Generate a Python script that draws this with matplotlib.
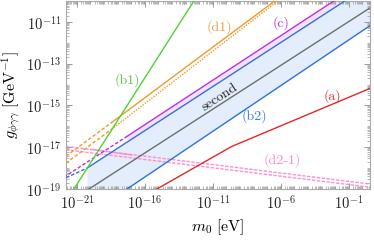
"""Coupling bounds g_phi_gamma_gamma versus mass m0."""

import matplotlib
matplotlib.use("Agg")
import matplotlib.pyplot as plt  # noqa: E402
import matplotlib.ticker as mticker  # noqa: E402
import numpy as np  # noqa: E402

plt.rcParams["mathtext.fontset"] = "cm"
plt.rcParams["font.family"] = ["DejaVu Serif"]

# values (m0 in eV, g in GeV^-1)
b1_m = [6e-22, 4e-13]
b1_g = [1e-19, 1e-10]

d1_dash_m = [1.55e-22, 3.7e-19]
d1_dash_g = [3.7e-18, 1.55e-16]
d1_m = [3.7e-19, 3.6e-7]
d1_g = [1.55e-16, 1e-10]
d1b_dash_m = [1.55e-22, 3.7e-19]
d1b_dash_g = [1.74e-18, 7.4e-17]
d1b_m = [3.7e-19, 6e-7]
d1b_g = [7.4e-17, 1e-10]

c_dash_m = [1.1e-22, 4.8e-18]
c_dash_g = [3.7e-19, 3.3e-17]
c_m = [4.8e-18, 7.9e-3]
c_g = [3.3e-17, 1e-10]

b2up_dash_m = [1.6e-22, 5.5e-21]
b2up_dash_g = [3.5e-19, 1e-18]
b2up_m = [5.5e-21, 5.1e-2]
b2up_g = [1e-18, 1e-10]
b2lo_m = [4.8e-18, 3.5]
b2lo_g = [1e-19, 6.5e-12]

second_m = [7.6e-21, 3.5]
second_g = [1e-19, 4.6e-11]

a_m = [5.5e-16, 2.5e-10, 3.5]
a_g = [8.9e-20, 1.1e-17, 6.5e-15]

d2_m = [1.55e-22, 4.9]
d2_g1 = [1.1e-17, 1.7e-19]
d2_g2 = [7.6e-18, 1.2e-19]
d2s_m = [1.26e-20, 1.1e-17]
d2s_g = [7.9e-18, 4.2e-18]

GREEN = "#4fd236"
ORANGE = "#ee9b2c"
PURPLE = "#bb2ee2"
BLUE = "#2f72e2"
GRAY = "#6e6e6e"
RED = "#e42626"
PINK = "#ff8fd2"


def loginterp(m, xs, ys):
    return 10 ** np.interp(np.log10(m), np.log10(xs), np.log10(ys))


fig = plt.figure(figsize=(3.74, 2.43), dpi=100)
ax = fig.add_axes([0.1765, 0.222, 0.8125, 0.774])
ax.set_xscale("log")
ax.set_yscale("log")
ax.set_xlim(10 ** -21.8, 10 ** 0.55)
ax.set_ylim(1e-19, 1e-10)

# shaded bands
mb = np.logspace(np.log10(b2up_m[0]), 1, 400)
ax.fill_between(mb, loginterp(mb, b2lo_m, b2lo_g), loginterp(mb, b2up_m, b2up_g),
                color="#e3edfb", lw=0, zorder=1)
mc = np.logspace(np.log10(c_m[0]), 1, 400)
ax.fill_between(mc, loginterp(mc, b2up_m, b2up_g), loginterp(mc, c_m, c_g),
                color="#f7e1f7", lw=0, zorder=1)

lw = 1.0
ax.plot(d2_m, d2_g1, color=PINK, lw=lw, ls=(0, (2.5, 1)), zorder=2)
ax.plot(d2_m, d2_g2, color=PINK, lw=lw, ls=(0, (2.5, 1)), zorder=2)
ax.plot(d2s_m, d2s_g, color=PINK, lw=lw, zorder=2)

ax.plot(second_m, second_g, color=GRAY, lw=lw, zorder=3)
ax.plot(b2lo_m, b2lo_g, color=BLUE, lw=lw, zorder=3)
ax.plot(b2up_m, b2up_g, color=BLUE, lw=lw, zorder=3)
ax.plot(b2up_dash_m, b2up_dash_g, color=BLUE, lw=lw, ls=(0, (2.5, 1.5)), zorder=3)
ax.plot(c_m, c_g, color=PURPLE, lw=lw, zorder=3)
ax.plot(c_dash_m, c_dash_g, color=PURPLE, lw=lw, ls=(0, (2.5, 1.5)), zorder=3)
ax.plot(d1_m, d1_g, color=ORANGE, lw=lw, zorder=3)
ax.plot(d1_dash_m, d1_dash_g, color=ORANGE, lw=lw, ls=(0, (2.5, 1.5)), zorder=3)
ax.plot(d1b_m, d1b_g, color=ORANGE, lw=lw, ls=(0, (1, 1)), zorder=3)
ax.plot(d1b_dash_m, d1b_dash_g, color=ORANGE, lw=lw, ls=(0, (2.5, 1.5)), zorder=3)
ax.plot(a_m, a_g, color=RED, lw=lw, zorder=3)
ax.plot(b1_m, b1_g, color=GREEN, lw=lw, zorder=4)

fs = 10
lab = dict(fontsize=fs, ha="center", va="center", family="cmr10")
ax.text(5.6e-18, 1.7e-14, "(b1)", color="#5cc644", **lab)
ax.text(3.2e-11, 5.8e-12, "(d1)", color="#eaa040", **lab)
ax.text(1e-6, 9e-12, "(c)", color="#b733e3", **lab)
ax.text(3.2e-11, 2.4e-15, "second", color="#222222", rotation=33,
        rotation_mode="anchor", **lab)
ax.text(1.2e-8, 3e-16, "(b2)", color="#3b7be3", **lab)
ax.text(6.6e-3, 2.7e-15, "(a)", color="#e43030", **lab)
ax.text(1.2e-6, 2.4e-18, "(d2-1)", color="#f390d4", **lab)

ax.xaxis.set_major_locator(mticker.FixedLocator([1e-21, 1e-16, 1e-11, 1e-6, 1e-1]))
ax.yaxis.set_major_locator(mticker.FixedLocator([1e-19, 1e-17, 1e-15, 1e-13, 1e-11]))
for axis in (ax.xaxis, ax.yaxis):
    axis.set_minor_locator(mticker.LogLocator(base=10, subs=np.arange(1, 10), numticks=300))
    axis.set_minor_formatter(mticker.NullFormatter())
    axis.set_major_formatter(mticker.FuncFormatter(
        lambda v, _: r"$10^{%d}$" % int(round(np.log10(v)))))

ax.tick_params(which="both", direction="in", top=True, right=True, color="#9a9a9a",
               labelcolor="#222222", labelsize=10.5)
ax.tick_params(which="major", length=4, width=0.7)
ax.tick_params(which="minor", length=2, width=0.5)
for sp in ax.spines.values():
    sp.set_color("#aaaaaa")
    sp.set_linewidth(0.8)

ax.set_xlabel(r"$m_0\ [\mathrm{eV}]$", fontsize=11.5, labelpad=4)
ax.set_ylabel(r"$g_{\phi\gamma\gamma}\ [\mathrm{GeV}^{-1}]$", fontsize=11.5, labelpad=2)

fig.savefig("out.png", dpi=100)
